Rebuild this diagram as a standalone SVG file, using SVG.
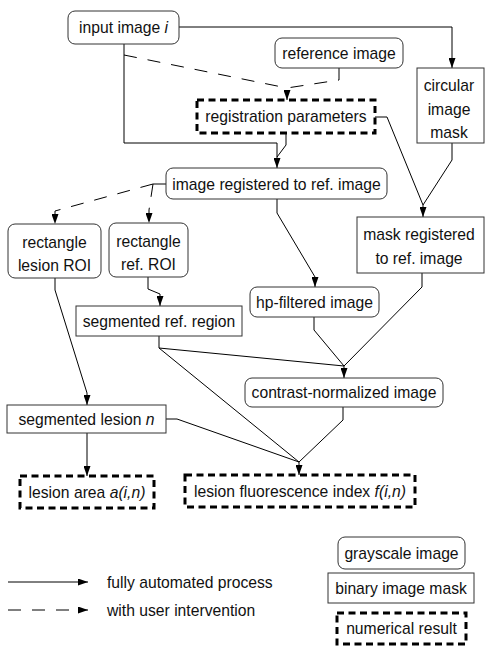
<svg xmlns="http://www.w3.org/2000/svg" width="485" height="648" viewBox="0 0 485 648">
<defs>
<marker id="ah" viewBox="0 0 10 7" refX="10" refY="3.5" markerWidth="10" markerHeight="7" markerUnits="userSpaceOnUse" orient="auto">
<path d="M0,0 L10,3.5 L0,7 z" fill="#000"/>
</marker>
<style>
text{font-family:"Liberation Sans",Arial,Helvetica,sans-serif;font-size:15.7px;fill:#111;text-anchor:middle}
.g{fill:#fff;stroke:#333;stroke-width:1}
.m{fill:#fff;stroke:#333;stroke-width:1}
.r{fill:#fff;stroke:#000;stroke-width:3;stroke-dasharray:7 4.5}
.c{fill:none;stroke:#000;stroke-width:1}
.d{fill:none;stroke:#000;stroke-width:1;stroke-dasharray:13 11}
.a{marker-end:url(#ah)}
</style>
</defs>
<g id="connectors">
<path class="c a" d="M179,27 H452 V68"/>
<path class="c a" d="M124,44 V143 H277 V168"/>
<path class="c" d="M286,133 V145 L277,157"/>
<path class="d" d="M124,55 L287,88"/>
<path class="d a" d="M339,68 V80 L287,88 V100"/>
<path class="c a" d="M375,117 H387 L423,205 V217"/>
<path class="c" d="M452,143 V160 L423,205"/>
<path class="c a" d="M277,199 V213 L315,277 V287"/>
<path class="c" d="M166,184 H153"/>
<path class="d a" d="M153,184 L55,211 V224"/>
<path class="d a" d="M153,184 L149,210 V223"/>
<path class="c a" d="M148,277 V289 L160,294 V306"/>
<path class="c" d="M159,336 V348 L344,366"/>
<path class="c" d="M159,348 L299,462"/>
<path class="c a" d="M55,278 V290 L87,393 V405"/>
<path class="c a" d="M314,317 V330 L344,366 V378"/>
<path class="c" d="M422,273 V287 L344,366"/>
<path class="c a" d="M343,407 V420 L299,462 V475"/>
<path class="c" d="M166,419 H177 L299,462"/>
<path class="c a" d="M87,433 V476"/>
<path class="c a" d="M8,582 H88"/>
<path class="d a" d="M8,610 H88"/>
</g>
<g id="input-image">
<rect class="g" x="68" y="11" width="111" height="33" rx="7"/>
<text x="123.5" y="33">input image <tspan font-style="italic">i</tspan></text>
</g>
<g id="reference-image">
<rect class="g" x="275" y="38" width="128" height="30" rx="7"/>
<text x="339" y="59">reference image</text>
</g>
<g id="registration-parameters">
<rect class="r" x="197" y="100" width="178" height="33"/>
<text x="286" y="122">registration parameters</text>
</g>
<g id="circular-image-mask">
<rect class="m" x="417" y="68" width="67" height="75"/>
<text x="449" y="91">circular</text>
<text x="449" y="115">image</text>
<text x="449" y="138">mask</text>
</g>
<g id="image-registered">
<rect class="g" x="166" y="168" width="221" height="31" rx="7"/>
<text x="276.5" y="190">image registered to ref. image</text>
</g>
<g id="rectangle-lesion-roi">
<rect class="g" x="8" y="224" width="93" height="54" rx="7"/>
<text x="54.5" y="247.5">rectangle</text>
<text x="54.5" y="270.5">lesion ROI</text>
</g>
<g id="rectangle-ref-roi">
<rect class="g" x="109" y="223" width="79" height="54" rx="7"/>
<text x="148.5" y="246.5">rectangle</text>
<text x="148.5" y="269.5">ref. ROI</text>
</g>
<g id="mask-registered">
<rect class="m" x="357" y="217" width="127" height="56"/>
<text x="419" y="239.5">mask registered</text>
<text x="419" y="263.5">to ref. image</text>
</g>
<g id="hp-filtered-image">
<rect class="g" x="250" y="287" width="129" height="30" rx="7"/>
<text x="314.5" y="307.5">hp-filtered image</text>
</g>
<g id="segmented-ref-region">
<rect class="m" x="76" y="306" width="166" height="30"/>
<text x="159" y="326.5">segmented ref. region</text>
</g>
<g id="contrast-normalized-image">
<rect class="g" x="245" y="378" width="198" height="29" rx="7"/>
<text x="344" y="398">contrast-normalized image</text>
</g>
<g id="segmented-lesion">
<rect class="m" x="7" y="405" width="159" height="28"/>
<text x="86.5" y="424.5">segmented lesion <tspan font-style="italic">n</tspan></text>
</g>
<g id="lesion-area">
<rect class="r" x="20" y="476" width="134" height="32"/>
<text x="87" y="497.5">lesion area <tspan font-style="italic">a(i,n)</tspan></text>
</g>
<g id="lesion-fluorescence-index">
<rect class="r" x="185" y="475" width="230" height="32"/>
<text x="300" y="496.5">lesion fluorescence index <tspan font-style="italic">f(i,n)</tspan></text>
</g>
<g id="legend">
<text x="107" y="587.5" style="text-anchor:start">fully automated process</text>
<text x="107" y="615.5" style="text-anchor:start">with user intervention</text>
<rect class="g" x="338" y="537" width="127" height="32" rx="7"/>
<text x="401.5" y="558.5">grayscale image</text>
<rect class="m" x="328" y="573" width="146" height="30"/>
<text x="401" y="593.5">binary image mask</text>
<rect class="r" x="337" y="613" width="129" height="31"/>
<text x="401.5" y="634">numerical result</text>
</g>
</svg>
